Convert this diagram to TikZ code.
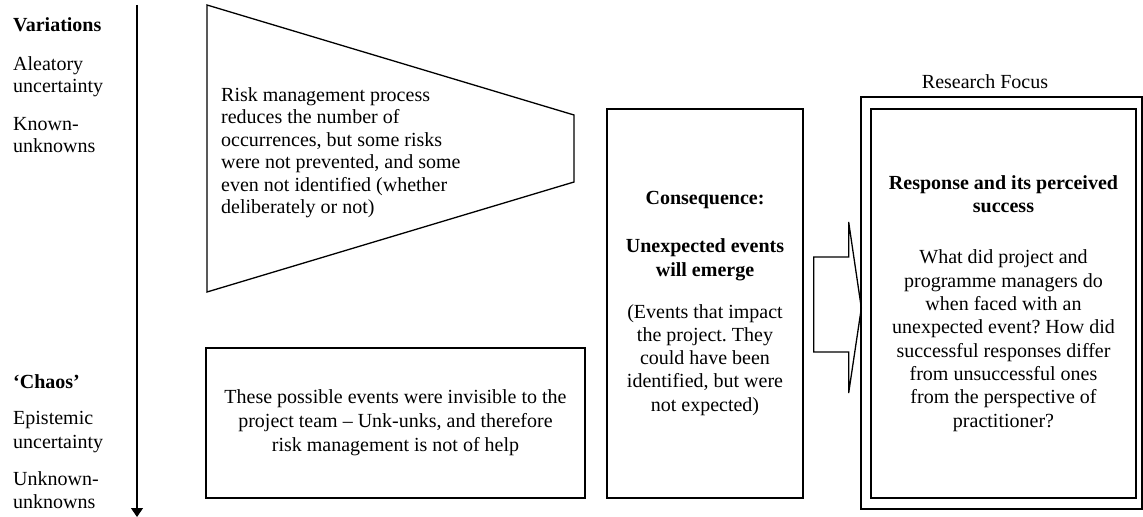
\documentclass[tikz,border=0pt]{standalone}
\usepackage{fontspec}
\setmainfont{Liberation Serif}
\usetikzlibrary{arrows.meta,calc}
\newcommand\firststrut{\rule{0pt}{15bp}}
\frenchspacing
\begin{document}
\begin{tikzpicture}[x=1bp,y=-1bp,
  txt/.style={inner sep=0pt, font=\fontsize{20bp}{23bp}\selectfont},
  txtl/.style={txt, align=left, anchor=north west},
  boxline/.style={draw, line width=1.3bp},
  tbox/.style={boxline, txt, align=center, font=\fontsize{20bp}{23.3bp}\selectfont}]
\useasboundingbox (0,0) rectangle (1143,517);

% left labels
\node[txt, anchor=base west] (var) at (13,32) {\textbf{Variations}};
\node[txtl, font=\fontsize{20bp}{22.5bp}\selectfont] (alea) at (13,55) {\firststrut Aleatory\\uncertainty};
\node[txtl, font=\fontsize{20bp}{22.5bp}\selectfont] (known) at (13,115) {\firststrut Known-\\unknowns};
\node[txt, anchor=base west] (chaos) at (13,388) {\textbf{‘Chaos’}};
\node[txtl, font=\fontsize{20bp}{24bp}\selectfont] (epi) at (13,409) {\firststrut Epistemic\\uncertainty};
\node[txtl, font=\fontsize{20bp}{23.5bp}\selectfont] (unkunk) at (13,470) {\firststrut Unknown-\\unknowns};

% vertical axis arrow
\coordinate (atop) at (137,5);
\coordinate (abot) at (137,517);
\draw[line width=1.3bp, -{Triangle[length=9bp,width=12bp]}] (atop) -- (abot);

% funnel
\draw[boxline] (207,5) -- (574,115) -- (574,182) -- (207,292) -- cycle;
\node[txtl, font=\fontsize{20bp}{22.5bp}\selectfont] (risk) at (221,86)
  {\firststrut Risk management process\\reduces the number of\\occurrences, but some risks\\were not prevented, and some\\even not identified (whether\\deliberately or not)};

% invisible events box
\node[tbox, minimum width=379bp, minimum height=150bp, font=\fontsize{20bp}{24bp}\selectfont] (invis) at (395.5,423)
  {These possible events were invisible to the\\project team – Unk-unks, and therefore\\risk management is not of help};

% consequence box
\node[tbox, minimum width=196bp, minimum height=389bp] (mid) at (705,303.5)
  {\textbf{Consequence:}\\[24.7bp]\textbf{Unexpected events}\\\textbf{will emerge}\\[18.7bp](Events that impact\\the project. They\\could have been\\identified, but were\\not expected)};

% research focus
\node[boxline, minimum width=281bp, minimum height=412bp, inner sep=0pt] (outer) at (1001.5,303) {};
\node[txt, anchor=base] (rf) at (985,89) {Research Focus};
\node[tbox, minimum width=265bp, minimum height=389bp] (resp) at (1003.5,303.5)
  {\textbf{Response and its perceived}\\\textbf{success}\\[27.7bp]What did project and\\programme managers do\\when faced with an\\unexpected event? How did\\successful responses differ\\from unsuccessful ones\\from the perspective of\\practitioner?};

% block arrow from consequence to research focus
\coordinate (ab) at ($(mid.east)+(10,0)$);
\coordinate (tip) at ($(outer.west)+(1,5)$);
\draw[boxline]
  ($(ab)+(0,-46.5)$) -- ($(ab)+(35,-46.5)$) -- ($(ab)+(35,-81.5)$) -- (tip)
  -- ($(ab)+(35,89.5)$) -- ($(ab)+(35,48.5)$) -- ($(ab)+(0,48.5)$) -- cycle;
\end{tikzpicture}
\end{document}
